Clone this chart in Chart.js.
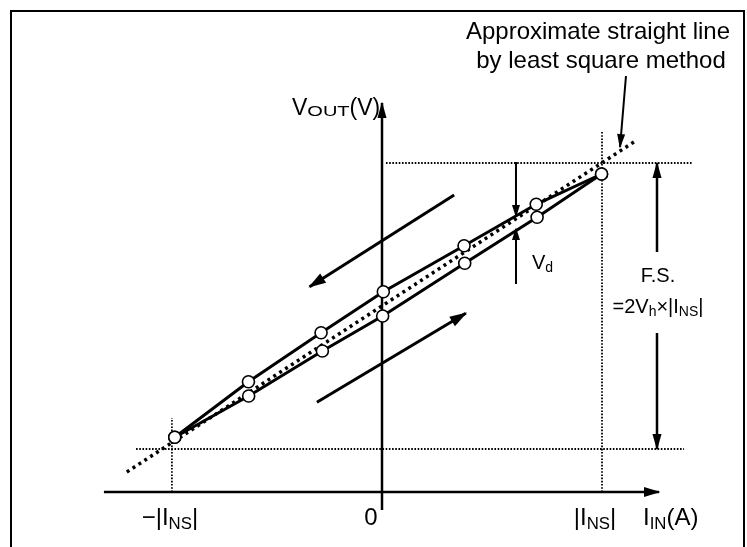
<!DOCTYPE html>
<html>
<head>
<meta charset="utf-8">
<script src="https://cdn.jsdelivr.net/npm/chart.js@4/dist/chart.umd.min.js"></script>
<style>
  body { margin: 0; background: #fff; }
  canvas { display: block; }
</style>
</head>
<body>
<canvas id="hysteresis" width="747" height="547"></canvas>
<script>
// I_IN in units of |I_NS|, V_OUT in arbitrary units
var ascendI = [-0.942, -0.606, -0.271, 0.003, 0.376, 0.705, 0.998];
var ascendV = [0.547, 0.96, 1.41, 1.76, 2.287, 2.747, 3.18];
var descendI = [0.998, 0.701, 0.373, 0.006, -0.277, -0.607, -0.942];
var descendV = [3.18, 2.877, 2.463, 2.003, 1.593, 1.103, 0.547];
var fitI = [-1.16, 1.145];
var fitV = [0.2, 3.5];
var insNeg = -0.955;
var insPos = 1.0;
var fsLow = 0.43;
var fsHigh = 3.29;
var vdI = 0.609;
var fsI = 1.25;
var tickLabels = ["\u2212|I_{NS}|", "0", "|I_{NS}|"];
var xTitle = "I_{IN}(A)";
var yTitle = "V_{OUT}(V)";

var FONT = '"Liberation Sans", Arial, sans-serif';

function pts(xs, ys) {
    return xs.map(function (x, i) {
        return { x: x, y: ys[i] };
    });
}

function line(data, width, extra) {
    var ds = {
        data: data,
        showLine: true,
        borderColor: "#000",
        borderWidth: width,
        pointRadius: 0,
        fill: false,
        tension: 0,
        clip: false,
        order: 6,
    };
    for (var k in extra) ds[k] = extra[k];
    return ds;
}

function markers(data) {
    return {
        data: data,
        showLine: false,
        pointRadius: 6,
        pointBackgroundColor: "#fff",
        pointBorderColor: "#000",
        pointBorderWidth: 1.6,
        clip: false,
        order: 1,
    };
}

// text with _{...} subscripts; sub = [size ratio, drop, horizontal stretch]
function drawRich(ctx, str, x, y, size, align, sub) {
    sub = sub || [0.7, 0.16, 1];
    var parts = str.split(/_\{([^}]*)\}/);
    var segs = parts.map(function (t, i) {
        var isSub = i % 2 === 1;
        return {
            t: t,
            s: isSub ? size * sub[0] : size,
            dy: isSub ? size * sub[1] : 0,
            sx: isSub ? sub[2] : 1,
        };
    });
    var w = 0;
    segs.forEach(function (sg) {
        ctx.font = sg.s + "px " + FONT;
        sg.w = ctx.measureText(sg.t).width * sg.sx;
        w += sg.w;
    });
    var cx = align === "center" ? x - w / 2 : x;
    ctx.textAlign = "left";
    ctx.textBaseline = "alphabetic";
    segs.forEach(function (sg) {
        ctx.font = sg.s + "px " + FONT;
        ctx.save();
        ctx.translate(cx, y + sg.dy);
        ctx.scale(sg.sx, 1);
        ctx.fillText(sg.t, 0, 0);
        ctx.restore();
        cx += sg.w;
    });
}

var figurePlugin = {
    id: "figure",
    beforeDraw: function (chart) {
        var ctx = chart.ctx;
        ctx.save();
        ctx.fillStyle = "#fff";
        ctx.fillRect(0, 0, chart.width, chart.height);
        ctx.strokeStyle = "#000";
        ctx.lineWidth = 2;
        ctx.strokeRect(11, 11, 733, 560);
        ctx.restore();
    },
    afterDatasetsDraw: function (chart) {
        var ctx = chart.ctx;
        var xs = chart.scales.x;
        var ys = chart.scales.y;
        ctx.save();
        ctx.fillStyle = "#000";
        chart.data.datasets.forEach(function (ds, i) {
            if (!ds.head) return;
            var el = chart.getDatasetMeta(i).data;
            var a = el[el.length - 2];
            var b = el[el.length - 1];
            var ang = Math.atan2(b.y - a.y, b.x - a.x);
            var L = ds.head[0];
            var H = ds.head[1];
            var bx = b.x - L * Math.cos(ang);
            var by = b.y - L * Math.sin(ang);
            ctx.beginPath();
            ctx.moveTo(b.x + 1.5 * Math.cos(ang), b.y + 1.5 * Math.sin(ang));
            ctx.lineTo(bx - H * Math.sin(ang), by + H * Math.cos(ang));
            ctx.lineTo(bx + H * Math.sin(ang), by - H * Math.cos(ang));
            ctx.closePath();
            ctx.fill();
        });

        var baseY = ys.getPixelForValue(0) + 33;
        drawRich(ctx, tickLabels[0], xs.getPixelForValue(insNeg) - 2, baseY, 24, "center");
        drawRich(ctx, tickLabels[1], xs.getPixelForValue(0) - 11, baseY, 24, "center");
        drawRich(ctx, tickLabels[2], xs.getPixelForValue(insPos) - 7, baseY, 24, "center");
        drawRich(ctx, xTitle, 643, baseY, 24, "left");
        drawRich(ctx, yTitle, 292, 115, 23, "left", [0.6, 0.05, 1.45]);

        drawRich(ctx, "Approximate straight line", 598, 39, 24, "center");
        drawRich(ctx, "by least square method", 601, 68, 24, "center");
        drawRich(ctx, "V_{d}", 532, 269, 20, "left");
        drawRich(ctx, "F.S.", 658, 282, 20, "center");
        drawRich(ctx, "=2V_{h}\u00d7|I_{NS}|", 658, 313, 20, "center");
        ctx.restore();
    },
};

var ctx = document.getElementById("hysteresis").getContext("2d");
var dotted = { borderDash: [1.6, 1.6] };

var myChart = new Chart(ctx, {
    type: "scatter",
    data: {
        datasets: [
            // reference lines
            line(pts([insNeg, insNeg], [0, 0.74]), 1.8, dotted),
            line(pts([insPos, insPos], [0, 3.6]), 1.8, dotted),
            line(pts([0.018, 1.41], [fsHigh, fsHigh]), 1.8, dotted),
            line(pts([-1.118, 1.373], [fsLow, fsLow]), 1.8, dotted),
            // axes
            line(pts([-1.264, 1.259], [0, 0]), 2.5, { head: [15, 5] }),
            line(pts([0, 0], [-0.18, 3.89]), 2.5, { head: [15, 4.5] }),
            // loop
            line(pts(ascendI, ascendV), 3, { order: 5 }),
            line(pts(descendI, descendV), 3, { order: 5 }),
            line(pts(fitI, fitV), 3.5, { borderDash: [3, 4], order: 3 }),
            markers(pts(ascendI, ascendV)),
            markers(pts(descendI, descendV)),
            // direction arrows
            line(pts([0.328, -0.329], [2.97, 2.053]), 3, { head: [16, 5.5] }),
            line(pts([-0.296, 0.381], [0.897, 1.787]), 3, { head: [16, 5.5] }),
            // V_d
            line(pts([vdI, vdI], [3.3, 2.76]), 2, { head: [11, 4] }),
            line(pts([vdI, vdI], [2.08, 2.63]), 2, { head: [11, 4] }),
            // F.S.
            line(pts([fsI, fsI], [2.4, fsHigh]), 2.5, { head: [15, 4.5] }),
            line(pts([fsI, fsI], [1.59, fsLow]), 2.5, { head: [15, 4.5] }),
            // pointer to fitted line
            line(pts([1.109, 1.082], [4.16, 3.45]), 2, { head: [13, 4] }),
        ],
    },
    options: {
        responsive: false,
        animation: false,
        layout: {
            padding: { left: 96, right: 13, top: 52, bottom: 25 },
        },
        plugins: {
            legend: { display: false },
            tooltip: { enabled: false },
        },
        scales: {
            x: { type: "linear", min: -1.3, max: 1.6, display: false },
            y: { type: "linear", min: -0.3, max: 4.4, display: false },
        },
    },
    plugins: [figurePlugin],
});
</script>
</body>
</html>
